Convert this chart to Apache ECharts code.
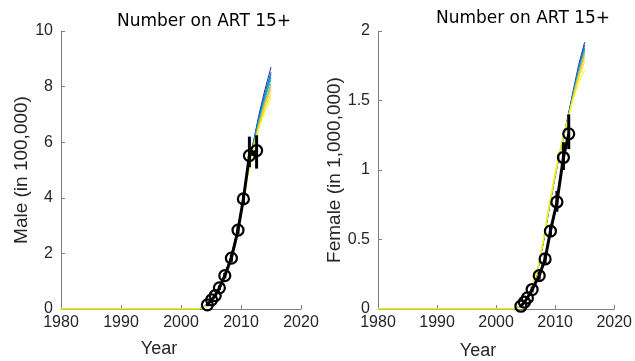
<!DOCTYPE html>
<html><head><meta charset="utf-8">
<script src="https://cdn.jsdelivr.net/npm/echarts@6/dist/echarts.min.js"></script>
<style>html,body{margin:0;padding:0;background:#fff}#c{width:635px;height:361px}</style>
</head><body><div id="c"></div>
<script>
// ---- data ----
const xTicks = [1980, 1990, 2000, 2010, 2020];
const simYears = [1980, 2003, 2004, 2005, 2006, 2007, 2008, 2009, 2010, 2011, 2012, 2013, 2014, 2015];
const simColors = ['#352a87', '#0363e1', '#1485d4', '#06a7c6', '#38b99e', '#92bf73', '#d9ba56', '#fcce2e', '#f5e31d', '#f9fb0e'];
// male model runs (in 100,000)
const maleSims = [
  [0, 0, 0.12, 0.30, 0.60, 1.05, 1.68, 2.45, 3.50, 4.80, 5.95, 7.00, 7.90, 8.70],
  [0, 0, 0.12, 0.30, 0.60, 1.05, 1.67, 2.44, 3.48, 4.78, 5.92, 6.92, 7.78, 8.52],
  [0, 0, 0.12, 0.30, 0.60, 1.04, 1.66, 2.43, 3.47, 4.76, 5.89, 6.86, 7.70, 8.44],
  [0, 0, 0.11, 0.29, 0.59, 1.04, 1.65, 2.42, 3.46, 4.75, 5.86, 6.80, 7.62, 8.35],
  [0, 0, 0.11, 0.29, 0.59, 1.03, 1.64, 2.41, 3.45, 4.73, 5.83, 6.75, 7.55, 8.25],
  [0, 0, 0.11, 0.29, 0.58, 1.03, 1.63, 2.40, 3.43, 4.71, 5.80, 6.70, 7.46, 8.10],
  [0, 0, 0.11, 0.28, 0.58, 1.02, 1.62, 2.39, 3.42, 4.70, 5.78, 6.65, 7.40, 8.00],
  [0, 0, 0.10, 0.28, 0.57, 1.02, 1.61, 2.38, 3.40, 4.68, 5.75, 6.60, 7.30, 7.90],
  [0, 0, 0.10, 0.27, 0.57, 1.01, 1.60, 2.37, 3.39, 4.66, 5.72, 6.55, 7.20, 7.75],
  [0, 0, 0.10, 0.27, 0.56, 1.00, 1.59, 2.36, 3.38, 4.64, 5.70, 6.50, 7.10, 7.60]
];
// female model runs (in 1,000,000)
const femaleSims = [
  [0, 0, 0.02, 0.06, 0.14, 0.27, 0.48, 0.73, 0.96, 1.17, 1.35, 1.56, 1.76, 1.92],
  [0, 0, 0.02, 0.06, 0.14, 0.27, 0.48, 0.73, 0.96, 1.17, 1.35, 1.55, 1.74, 1.90],
  [0, 0, 0.02, 0.06, 0.14, 0.27, 0.48, 0.73, 0.96, 1.16, 1.34, 1.54, 1.73, 1.88],
  [0, 0, 0.02, 0.06, 0.14, 0.27, 0.48, 0.73, 0.96, 1.16, 1.34, 1.53, 1.72, 1.87],
  [0, 0, 0.02, 0.06, 0.14, 0.27, 0.48, 0.73, 0.95, 1.16, 1.34, 1.53, 1.71, 1.86],
  [0, 0, 0.02, 0.06, 0.14, 0.27, 0.49, 0.74, 0.96, 1.16, 1.34, 1.52, 1.70, 1.85],
  [0, 0, 0.02, 0.06, 0.14, 0.27, 0.49, 0.74, 0.96, 1.16, 1.33, 1.52, 1.69, 1.83],
  [0, 0, 0.02, 0.06, 0.14, 0.28, 0.49, 0.74, 0.97, 1.17, 1.34, 1.52, 1.68, 1.81],
  [0, 0, 0.02, 0.06, 0.14, 0.28, 0.50, 0.75, 0.97, 1.17, 1.34, 1.51, 1.66, 1.78],
  [0, 0, 0.02, 0.06, 0.15, 0.28, 0.50, 0.75, 0.98, 1.18, 1.34, 1.50, 1.63, 1.72]
];
// observed data
const maleYears = [2004.4, 2005.1, 2005.7, 2006.4, 2007.3, 2008.4, 2009.5, 2010.4, 2011.4, 2012.6];
const maleVals = [0.15, 0.33, 0.48, 0.76, 1.20, 1.83, 2.84, 3.96, 5.52, 5.70];
const maleLo = [0.10, 0.27, 0.42, 0.68, 1.10, 1.70, 2.70, 3.80, 5.10, 5.05];
const maleHi = [0.20, 0.38, 0.55, 0.85, 1.30, 1.95, 3.00, 4.15, 6.20, 6.25];
const femaleYears = [2004.2, 2004.8, 2005.3, 2006.1, 2007.3, 2008.3, 2009.2, 2010.3, 2011.4, 2012.3];
const femaleVals = [0.02, 0.05, 0.08, 0.14, 0.24, 0.36, 0.56, 0.77, 1.09, 1.26];
const femaleLo = [0.01, 0.04, 0.07, 0.12, 0.21, 0.33, 0.52, 0.70, 1.00, 1.15];
const femaleHi = [0.03, 0.06, 0.09, 0.16, 0.27, 0.40, 0.60, 0.85, 1.20, 1.40];

const titleText = 'Number on ART 15+';
const maleLabel = 'Male (in 100,000)';
const femaleLabel = 'Female (in 1,000,000)';
const xLabel = 'Year';

// ---- chart ----
const chart = echarts.init(document.getElementById('c'), null, {renderer: 'canvas'});
const axisGray = '#808080';
const labelCol = '#262626';
const tickFont = {fontFamily: 'Liberation Sans', fontSize: 16, color: labelCol};

function xAxisCfg(gi) {
  return {
    type: 'value', gridIndex: gi, min: 1980, max: 2020, interval: 10,
    axisLine: {show: true, onZero: false, lineStyle: {color: axisGray, width: 1}},
    axisTick: {show: true, inside: true, length: 4, lineStyle: {color: axisGray}},
    splitLine: {show: false},
    axisLabel: Object.assign({margin: 6, formatter: v => String(v)}, tickFont)
  };
}
function yAxisCfg(gi, max, interval, name, gap) {
  return {
    type: 'value', gridIndex: gi, min: 0, max: max, interval: interval,
    axisLine: {show: true, lineStyle: {color: axisGray, width: 1}},
    axisTick: {show: true, inside: true, length: 4, lineStyle: {color: axisGray}},
    splitLine: {show: false},
    axisLabel: Object.assign({margin: 8}, tickFont),
    name: name, nameLocation: 'middle', nameRotate: 90, nameGap: gap,
    nameTextStyle: {fontFamily: 'Liberation Sans', fontSize: 19, color: labelCol}
  };
}

const series = [];
function addPanel(gi, sims, years, vals, lo, hi) {
  sims.forEach((arr, i) => {
    series.push({
      type: 'line', xAxisIndex: gi, yAxisIndex: gi, showSymbol: false, silent: true,
      lineStyle: {width: 1, color: simColors[i]}, z: 2,
      data: simYears.map((y, k) => [y, arr[k]])
    });
  });
  series.push({
    type: 'custom', xAxisIndex: gi, yAxisIndex: gi, z: 5, silent: true,
    data: years.map((y, k) => [y, lo[k], hi[k]]),
    renderItem: (params, api) => {
      const a = api.coord([api.value(0), api.value(1)]);
      const b = api.coord([api.value(0), api.value(2)]);
      return {type: 'line', shape: {x1: a[0], y1: a[1], x2: b[0], y2: b[1]},
        style: {stroke: '#000', lineWidth: 3}};
    }
  });
  series.push({
    type: 'line', xAxisIndex: gi, yAxisIndex: gi, z: 6, silent: true,
    symbol: 'circle', symbolSize: 11, showSymbol: true,
    itemStyle: {color: 'rgba(0,0,0,0)', borderColor: '#000', borderWidth: 2.2},
    lineStyle: {width: 3, color: '#000'},
    data: years.map((y, k) => [y, vals[k]])
  });
}
addPanel(0, maleSims, maleYears, maleVals, maleLo, maleHi);
addPanel(1, femaleSims, femaleYears, femaleVals, femaleLo, femaleHi);

function txt(x, y, text, family, size, fill) {
  return {type: 'text', x: x, y: y, silent: true,
    style: {text: text, fontFamily: family, fontSize: size, fill: fill, align: 'center', verticalAlign: 'middle'}};
}

chart.setOption({
  animation: false,
  backgroundColor: '#fff',
  grid: [
    {left: 61, top: 31, width: 240, height: 278},
    {left: 378, top: 31, width: 240, height: 278}
  ],
  xAxis: [xAxisCfg(0), xAxisCfg(1)],
  yAxis: [yAxisCfg(0, 10, 2, maleLabel, 24), yAxisCfg(1, 2, 0.5, femaleLabel, 33)],
  graphic: [
    txt(204, 22, titleText, 'DejaVu Sans', 17, '#000'),
    txt(523, 19, titleText, 'DejaVu Sans', 17, '#000'),
    txt(159, 349, xLabel, 'Liberation Sans', 18, labelCol),
    txt(478, 351, xLabel, 'Liberation Sans', 18, labelCol)
  ],
  series: series
});
</script>
</body></html>
